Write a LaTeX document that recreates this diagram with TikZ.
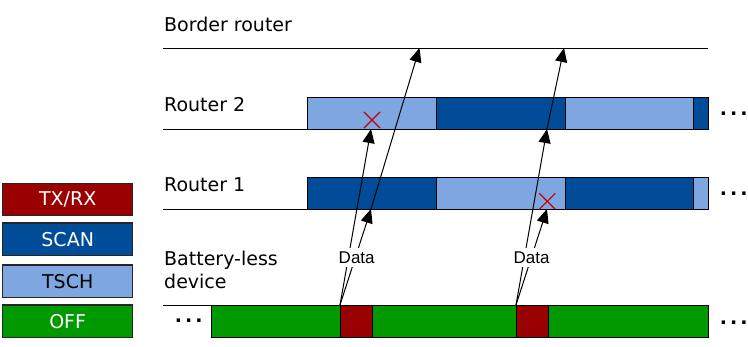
\documentclass[tikz,border=0pt]{standalone}
\usepackage{fontspec}
\setmainfont{DejaVu Sans}
\newfontfamily\datafont{Liberation Sans}
\usetikzlibrary{arrows.meta,shapes.misc}
\definecolor{txred}{HTML}{990000}
\definecolor{scanblue}{HTML}{004C99}
\definecolor{tschblue}{HTML}{7EA6E0}
\definecolor{offgreen}{HTML}{009900}
\definecolor{xred}{HTML}{C00000}
\begin{document}
\begin{tikzpicture}[x=1pt,y=-1pt,
  seg/.style={draw=black, line width=0.9pt, anchor=north west, inner sep=0pt, outer sep=0pt, minimum height=32pt},
  legbox/.style={draw=black!85, line width=1.4pt, minimum width=130pt, minimum height=32.5pt, inner sep=0pt, font=\fontsize{19}{22}\selectfont},
  lbl/.style={anchor=base west, inner sep=0pt, font=\fontsize{19}{22}\selectfont},
  dotlbl/.style={anchor=base west, inner sep=0pt, font=\fontsize{19}{22}\selectfont\bfseries},
  arr/.style={line width=1pt, -{Triangle[length=14pt,width=12pt]}},
  datalbl/.style={fill=white, inner xsep=1pt, inner ysep=3.5pt, font=\datafont\fontsize{17}{19}\selectfont},
  crossmark/.style={cross out, draw=xred, line width=1.1pt, minimum width=15pt, minimum height=15pt, inner sep=0pt},
  tl/.style={line width=0.9pt}
]
\useasboundingbox (0,0) rectangle (748,346);

% legend
\node[legbox, fill=txred, text=white] (ltx) at (67.7,199.5) {TX/RX};
\node[legbox, fill=scanblue, text=white] (lscan) at (67.7,239.2) {SCAN};
\node[legbox, fill=tschblue, text=black] (ltsch) at (67.7,281.3) {TSCH};
\node[legbox, fill=offgreen, text=white] (loff) at (67.7,321.3) {OFF};

% labels
\node[lbl] (lbr) at (164,31) {Border router};
\node[lbl] (lr2) at (164,111.7) {Router 2};
\node[lbl] (lr1) at (164,191.7) {Router 1};
\node[lbl] (lbl1) at (164,265) {Battery-less};
\node[lbl] (lbl2) at (164,288.3) {device};

% border router line
\coordinate (brs) at (163,48);
\coordinate (bre) at (708,48);
\draw[tl] (brs) -- (bre);

% Router 2
\node[seg, fill=tschblue, minimum width=129pt] (r2a) at (307,97) {};
\node[seg, fill=scanblue, minimum width=129pt] (r2b) at (436,97) {};
\node[seg, fill=tschblue, minimum width=128pt] (r2c) at (565,97) {};
\node[seg, fill=scanblue, minimum width=15pt] (r2d) at (693,97) {};
\coordinate (r2s) at (163,129);
\draw[tl] (r2s) -- (r2a.south west);
\node[dotlbl] (r2dots) at (719.7,115.5) {.\kern3pt.\kern3pt.};

% Router 1
\node[seg, fill=scanblue, minimum width=129pt] (r1a) at (307,177) {};
\node[seg, fill=tschblue, minimum width=129pt] (r1b) at (436,177) {};
\node[seg, fill=scanblue, minimum width=128pt] (r1c) at (565,177) {};
\node[seg, fill=tschblue, minimum width=15pt] (r1d) at (693,177) {};
\coordinate (r1s) at (163,209);
\draw[tl] (r1s) -- (r1a.south west);
\node[dotlbl] (r1dots) at (719.7,195.5) {.\kern3pt.\kern3pt.};

% Battery-less device
\node[seg, fill=offgreen, minimum width=129pt] (b1) at (211,305) {};
\node[seg, fill=txred, minimum width=32pt] (tx1) at (340,305) {};
\node[seg, fill=offgreen, minimum width=144pt] (b2) at (372,305) {};
\node[seg, fill=txred, minimum width=32pt] (tx2) at (516,305) {};
\node[seg, fill=offgreen, minimum width=160pt] (b3) at (548,305) {};
\coordinate (bs) at (163,305);
\draw[tl] (bs) -- (b1.north west);
\node[dotlbl] (bdotsl) at (174.7,322.5) {.\kern3pt.\kern3pt.};
\node[dotlbl] (bdotsr) at (719.7,324.5) {.\kern3pt.\kern3pt.};

% crosses
\node[crossmark] (x1) at (372,120) {};
\node[crossmark] (x2) at (547.3,201.3) {};

% arrow end points
\coordinate (p1) at (371,209);
\coordinate (p2) at (371,129);
\coordinate (q1) at (547,209);
\coordinate (q2) at (547,129);
\coordinate (br1) at (419.5,48);
\coordinate (br2) at (564,48);

\draw[arr] (tx1.north west) -- (p1);
\draw[arr] (tx1.north west) -- (p2);
\draw[arr] (p1) -- (br1);
\draw[arr] (tx2.north west) -- (q1);
\draw[arr] (tx2.north west) -- (q2);
\draw[arr] (q2) -- (br2);

\node[datalbl] (d1) at (356.7,257.5) {Data};
\node[datalbl] (d2) at (531.5,257.5) {Data};
\end{tikzpicture}
\end{document}
